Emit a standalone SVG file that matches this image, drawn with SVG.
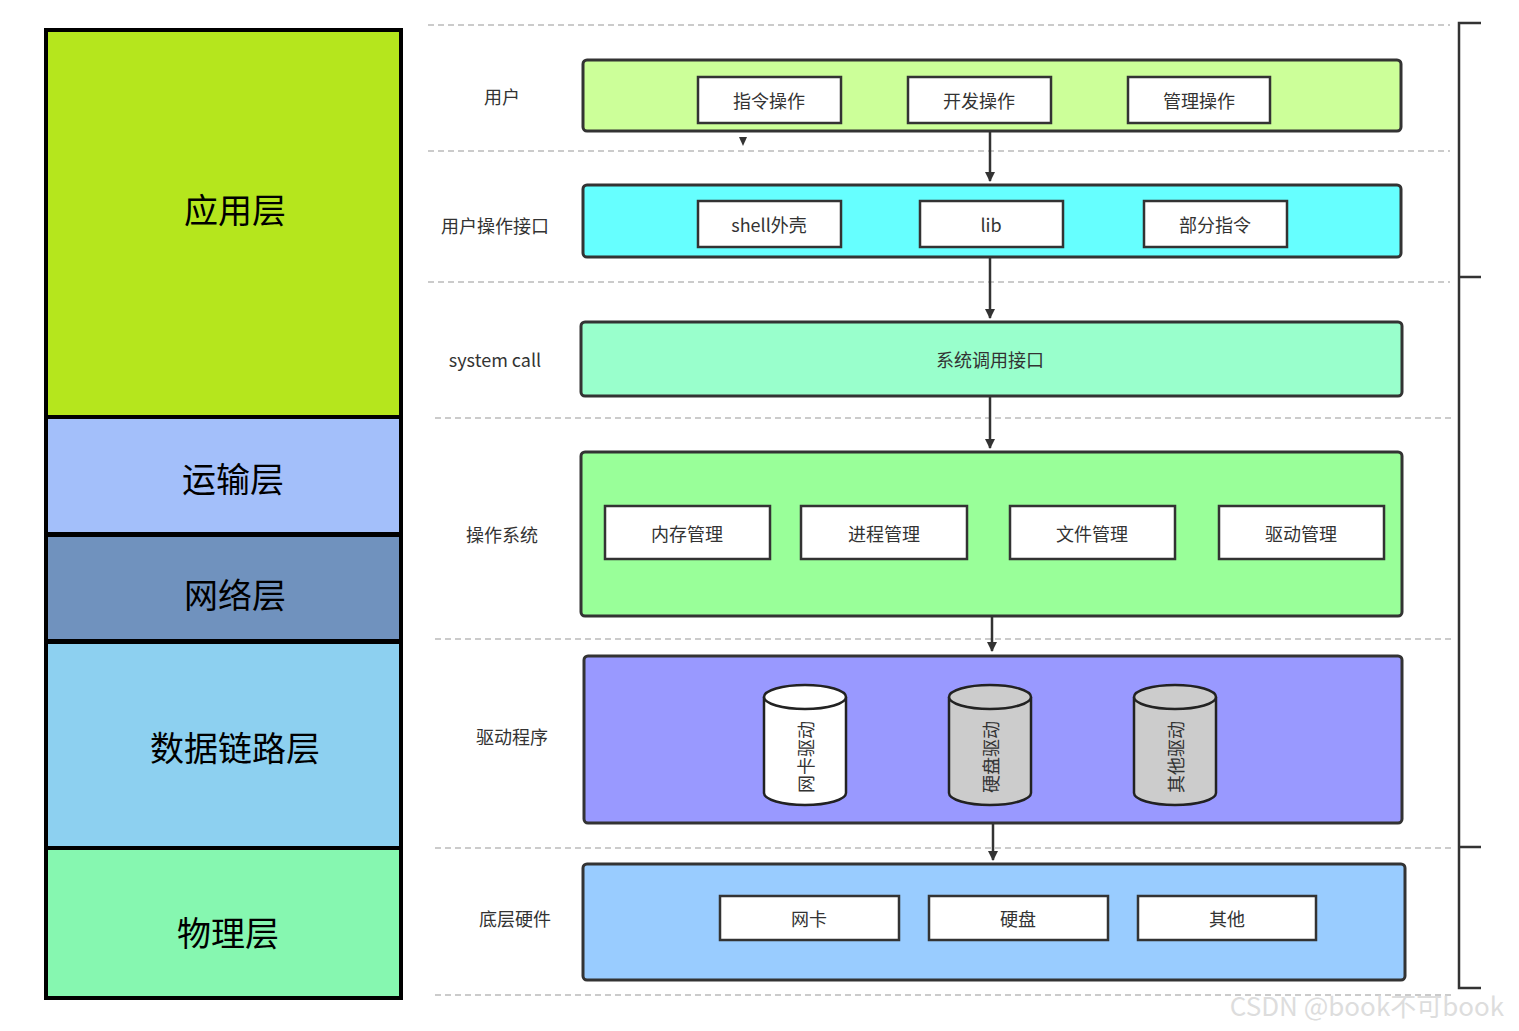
<svg xmlns="http://www.w3.org/2000/svg" width="1519" height="1031" viewBox="0 0 1519 1031">
<style>
text{font-family:"Noto Sans CJK SC","Liberation Sans",sans-serif;text-anchor:middle;dominant-baseline:central}
.big{font-size:34px;fill:#000}
.lay{stroke:#000;stroke-width:4}
.lbl{font-size:18px;fill:#333}
.panel{stroke:#333;stroke-width:3}
.ib{fill:#fff;stroke:#333;stroke-width:2.5}
.it{font-size:18px;fill:#333}
.dash{stroke:#bbb;stroke-width:1.5;stroke-dasharray:6 4;fill:none}
.con{stroke:#333;stroke-width:2.5;fill:none}
.cyl{stroke:#222;stroke-width:2.5}
</style>
<defs><marker id="ah" viewBox="0 0 10 10" refX="9" refY="5" markerWidth="4" markerHeight="5" orient="auto"><path d="M0,0L10,5L0,10z" fill="#333"/></marker></defs>
<rect width="1519" height="1031" fill="#fff"/>
<g id="left">
<g id="app"><rect class="lay" x="46" y="30" width="355" height="387" fill="#b5e61d"/><text class="big" x="235" y="208">应用层</text></g>
<g id="trans"><rect class="lay" x="46" y="417" width="355" height="117" fill="#a3bffa"/><text class="big" x="233" y="477">运输层</text></g>
<g id="net"><rect class="lay" x="46" y="535" width="355" height="106" fill="#7092be"/><text class="big" x="235" y="593">网络层</text></g>
<g id="link"><rect class="lay" x="46" y="642" width="355" height="206" fill="#8dd0f0"/><text class="big" x="235" y="746">数据链路层</text></g>
<g id="phy"><rect class="lay" x="46" y="848" width="355" height="150" fill="#86f7b0"/><text class="big" x="228" y="931">物理层</text></g>
</g>
<g id="dashes">
<path class="dash" d="M428,25H1450M428,151H1450M428,282H1450M435,418H1455M435,639H1455M435,848H1455M435,995H1455"/>
</g>
<g id="bracket" fill="none" stroke="#333" stroke-width="2.5"><path d="M1481,23H1459V988H1481M1459,277H1481M1459,847H1481"/></g>
<g id="connectors">
<path class="con" d="M990,131V181" marker-end="url(#ah)"/>
<path class="con" d="M990,257V318" marker-end="url(#ah)"/>
<path class="con" d="M990,396V448" marker-end="url(#ah)"/>
<path class="con" d="M992,616V651" marker-end="url(#ah)"/>
<path class="con" d="M993,823V860" marker-end="url(#ah)"/>
<path d="M739,137L747,137L743,146z" fill="#333"/>
</g>
<g id="user"><text class="lbl" x="502" y="96">用户</text>
<rect class="panel" x="583" y="60" width="818" height="71" rx="4" fill="#ccff99"/>
<rect class="ib" x="698" y="77" width="143" height="46"/><text class="it" x="769" y="100">指令操作</text>
<rect class="ib" x="908" y="77" width="143" height="46"/><text class="it" x="979" y="100">开发操作</text>
<rect class="ib" x="1128" y="77" width="142" height="46"/><text class="it" x="1199" y="100">管理操作</text></g>
<g id="api"><text class="lbl" x="495" y="225">用户操作接口</text>
<rect class="panel" x="583" y="185" width="818" height="72" rx="4" fill="#66ffff"/>
<rect class="ib" x="698" y="201" width="143" height="46"/><text class="it" x="769" y="224">shell外壳</text>
<rect class="ib" x="920" y="201" width="143" height="46"/><text class="it" x="991" y="224">lib</text>
<rect class="ib" x="1144" y="201" width="143" height="46"/><text class="it" x="1215" y="224">部分指令</text></g>
<g id="syscall"><text class="lbl" x="495" y="359">system call</text>
<rect class="panel" x="581" y="322" width="821" height="74" rx="4" fill="#99ffcc"/>
<text class="it" x="990" y="359">系统调用接口</text></g>
<g id="os"><text class="lbl" x="502" y="534">操作系统</text>
<rect class="panel" x="581" y="452" width="821" height="164" rx="4" fill="#99ff99"/>
<rect class="ib" x="605" y="506" width="165" height="53"/><text class="it" x="687" y="533">内存管理</text>
<rect class="ib" x="801" y="506" width="166" height="53"/><text class="it" x="884" y="533">进程管理</text>
<rect class="ib" x="1010" y="506" width="165" height="53"/><text class="it" x="1092" y="533">文件管理</text>
<rect class="ib" x="1219" y="506" width="165" height="53"/><text class="it" x="1301" y="533">驱动管理</text></g>
<g id="driver"><text class="lbl" x="512" y="736">驱动程序</text>
<rect class="panel" x="584" y="656" width="818" height="167" rx="4" fill="#9999ff"/>
<g><path class="cyl" fill="#fff" d="M764,697V793A41,12 0 0 0 846,793V697"/><ellipse class="cyl" cx="805" cy="697" rx="41" ry="12" fill="#fff"/><text class="it" font-size="17" transform="translate(805,757) rotate(-90)">网卡驱动</text></g>
<g><path class="cyl" fill="#ccc" d="M949,697V793A41,12 0 0 0 1031,793V697"/><ellipse class="cyl" cx="990" cy="697" rx="41" ry="12" fill="#ccc"/><text class="it" font-size="17" transform="translate(990,757) rotate(-90)">硬盘驱动</text></g>
<g><path class="cyl" fill="#ccc" d="M1134,697V793A41,12 0 0 0 1216,793V697"/><ellipse class="cyl" cx="1175" cy="697" rx="41" ry="12" fill="#ccc"/><text class="it" font-size="17" transform="translate(1175,757) rotate(-90)">其他驱动</text></g></g>
<g id="hw"><text class="lbl" x="515" y="918">底层硬件</text>
<rect class="panel" x="583" y="864" width="822" height="116" rx="4" fill="#99ccff"/>
<rect class="ib" x="720" y="896" width="179" height="44"/><text class="it" x="809" y="918">网卡</text>
<rect class="ib" x="929" y="896" width="179" height="44"/><text class="it" x="1018" y="918">硬盘</text>
<rect class="ib" x="1138" y="896" width="178" height="44"/><text class="it" x="1227" y="918">其他</text></g>
<text x="1367" y="1004" font-size="26" fill="#ddd">CSDN @book不可book</text>
</svg>
